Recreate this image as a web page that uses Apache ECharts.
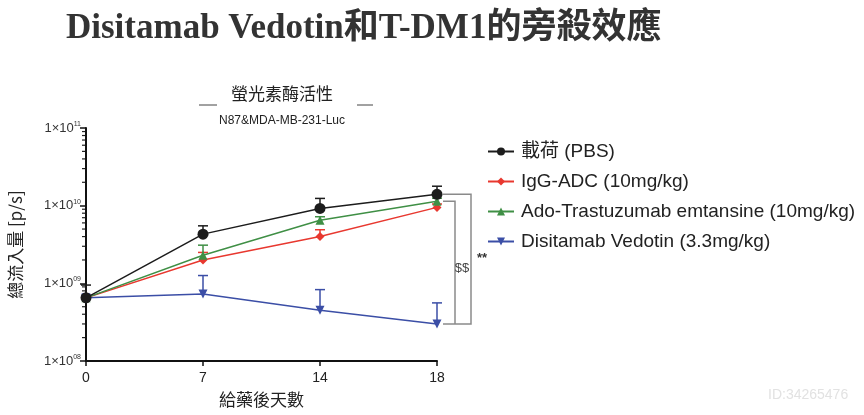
<!DOCTYPE html>
<html>
<head>
<meta charset="utf-8">
<script src="https://cdn.jsdelivr.net/npm/echarts@6/dist/echarts.min.js"></script>
<style>
  html, body { margin: 0; padding: 0; background: #fff; }
  #view1 { width: 864px; height: 415px; }
</style>
</head>
<body>
<div id="view1"></div>
<script>
// days after dosing (equally spaced on the plot, so category axis)
var days = ['0', '7', '14', '18'];

var names = ['載荷 (PBS)', 'IgG-ADC (10mg/kg)', 'Ado-Trastuzumab emtansine (10mg/kg)', 'Disitamab Vedotin (3.3mg/kg)'];

// total flux [p/s], means
var pbs = [6.5e8, 4.3e9, 9.2e9, 1.4e10];
var igg = [6.5e8, 2.0e9, 4.0e9, 9.5e9];
var tdm1 = [6.5e8, 2.3e9, 6.5e9, 1.14e10];
var dv = [6.5e8, 7.3e8, 4.5e8, 3.0e8];

// upper error bar ends
var pbsTop = [9.5e8, 5.5e9, 1.24e10, 1.78e10];
var iggTop = [7.0e8, 2.5e9, 4.9e9, 1.05e10];
var tdm1Top = [7.0e8, 3.1e9, 7.2e9, 1.25e10];
var dvTop = [7.0e8, 1.26e9, 8.3e8, 5.6e8];

// log minor tick values (2..9 in each decade)
var minorTicks = [];
[1e8, 1e9, 1e10].forEach(function (d) {
  for (var k = 2; k <= 9; k++) minorTicks.push(k * d);
});

var colors = ['#1c1c1c', '#e8382f', '#3f8f45', '#3b4ea6'];

function errData(mean, top) {
  return mean.map(function (m, i) { return [i, m, top[i]]; });
}

function errSeries(mean, top, color) {
  return {
    type: 'custom',
    silent: true,
    z: 1,
    data: errData(mean, top),
    renderItem: function (params, api) {
      var p0 = api.coord([api.value(0), api.value(1)]);
      var p1 = api.coord([api.value(0), api.value(2)]);
      var s = { stroke: color, lineWidth: 1.5 };
      return {
        type: 'group',
        children: [
          { type: 'line', shape: { x1: p0[0], y1: p0[1], x2: p1[0], y2: p1[1] }, style: s },
          { type: 'line', shape: { x1: p1[0] - 5, y1: p1[1], x2: p1[0] + 5, y2: p1[1] }, style: s }
        ]
      };
    }
  };
}

function lineSeries(i, data, symbol, size, rotate) {
  return {
    name: names[i],
    type: 'line',
    data: data,
    symbol: symbol,
    symbolSize: size,
    symbolRotate: rotate || 0,
    z: 3,
    color: colors[i],
    lineStyle: { width: 1.5, color: colors[i] },
    itemStyle: { color: colors[i] }
  };
}

var option = {
  animation: false,
  title: [{
    text: 'Disitamab Vedotin和T-DM1的旁殺效應',
    left: 61,
    top: 6,
    textStyle: { fontFamily: 'Liberation Serif, Noto Sans CJK TC', fontWeight: 'bold', fontSize: 35, color: '#333' }
  }, {
    text: '螢光素酶活性',
    left: 277,
    textAlign: 'center',
    top: 80,
    textStyle: { fontFamily: 'Noto Sans CJK TC', fontWeight: 'normal', fontSize: 17, color: '#222' }
  }, {
    text: 'N87&MDA-MB-231-Luc',
    left: 277,
    textAlign: 'center',
    top: 110,
    textStyle: { fontFamily: 'Liberation Sans', fontWeight: 'normal', fontSize: 12, color: '#222' }
  }],
  legend: {
    orient: 'vertical',
    left: 482,
    top: 137,
    itemGap: 11,
    itemWidth: 26,
    itemHeight: 10,
    data: names,
    textStyle: { fontFamily: 'Liberation Sans, Noto Sans CJK TC', fontSize: 19, color: '#222', padding: [0, 0, 0, 2] }
  },
  grid: { left: 86, top: 128, width: 351, height: 233 },
  xAxis: {
    type: 'category',
    boundaryGap: false,
    data: days,
    name: '給藥後天數',
    nameLocation: 'middle',
    nameGap: 30,
    nameTextStyle: { fontFamily: 'Noto Sans CJK TC', fontSize: 17, color: '#222' },
    axisLine: { lineStyle: { color: '#111', width: 2 } },
    axisTick: { show: true, alignWithLabel: true, length: 5, lineStyle: { color: '#111', width: 1.5 } },
    axisLabel: { fontFamily: 'Liberation Sans', fontSize: 14, color: '#222', margin: 10 },
    splitLine: { show: false }
  },
  yAxis: {
    type: 'log',
    logBase: 10,
    min: 1e8,
    max: 1e11,
    name: '總流入量 [p/s]',
    nameLocation: 'middle',
    nameGap: 62,
    nameRotate: 90,
    nameTextStyle: { fontFamily: 'Noto Sans CJK TC', fontSize: 17, color: '#222' },
    axisLine: { show: true, lineStyle: { color: '#111', width: 2 } },
    axisTick: { show: true, length: 6, lineStyle: { color: '#111', width: 1.5 } },
    axisLabel: {
      fontFamily: 'Liberation Sans',
      fontSize: 13,
      color: '#333',
      margin: 5,
      formatter: function (v) {
        var e = Math.round(Math.log10(v));
        return '1×10{sup|' + (e < 10 ? '0' + e : e) + '}';
      },
      rich: { sup: { fontSize: 7, verticalAlign: 'top', padding: [0, 0, 8, 0], color: '#333' } }
    },
    splitLine: { show: false }
  },
  series: [
    {
      type: 'custom',
      silent: true,
      z: 0,
      data: minorTicks.map(function (v) { return [0, v]; }),
      renderItem: function (params, api) {
        var p = api.coord([0, api.value(1)]);
        return { type: 'line', shape: { x1: p[0] - 1, y1: p[1], x2: p[0] - 4, y2: p[1] }, style: { stroke: '#222', lineWidth: 1.2 } };
      }
    },
    errSeries(pbs, pbsTop, colors[0]),
    errSeries(igg, iggTop, colors[1]),
    errSeries(tdm1, tdm1Top, colors[2]),
    errSeries(dv, dvTop, colors[3]),
    lineSeries(3, dv, 'triangle', 9, 180),
    lineSeries(1, igg, 'diamond', 9),
    lineSeries(2, tdm1, 'triangle', 9),
    lineSeries(0, pbs, 'circle', 11)
  ]
};

var chart = echarts.init(document.getElementById('view1'));
chart.setOption(option);

// significance brackets and decorations, anchored on the day-18 values
var last = days.length - 1;
var pTop = chart.convertToPixel({ gridIndex: 0 }, [last, pbs[last]]);
var gTop = chart.convertToPixel({ gridIndex: 0 }, [last, tdm1[last]]);
var bBot = chart.convertToPixel({ gridIndex: 0 }, [last, dv[last]]);
var bx = pTop[0] + 6;
var gray = { stroke: '#8a8a8a', lineWidth: 1.5, fill: null };

chart.setOption({
  graphic: [
    { type: 'polyline', shape: { points: [[bx, pTop[1]], [bx + 28, pTop[1]], [bx + 28, bBot[1]], [bx, bBot[1]]] }, style: gray },
    { type: 'polyline', shape: { points: [[bx, gTop[1]], [bx + 12, gTop[1]], [bx + 12, bBot[1]]] }, style: gray },
    { type: 'text', x: bx + 19, y: (gTop[1] + bBot[1]) / 2 + 6, style: { text: '$$', fontSize: 13, fontFamily: 'Liberation Sans', fill: '#444', align: 'center', verticalAlign: 'middle' } },
    { type: 'text', x: bx + 39, y: (pTop[1] + bBot[1]) / 2 - 1, style: { text: '**', fontSize: 13, fontFamily: 'Liberation Sans', fontWeight: 'bold', fill: '#333', align: 'center', verticalAlign: 'middle' } },
    { type: 'line', shape: { x1: 199, y1: 105, x2: 217, y2: 105 }, style: { stroke: '#444', lineWidth: 1 } },
    { type: 'line', shape: { x1: 357, y1: 105, x2: 373, y2: 105 }, style: { stroke: '#444', lineWidth: 1 } },
    { type: 'text', x: 768, y: 388, style: { text: 'ID:34265476', fontSize: 14, fontFamily: 'Liberation Sans', fill: '#e2e2e2' } }
  ]
});
</script>
</body>
</html>
